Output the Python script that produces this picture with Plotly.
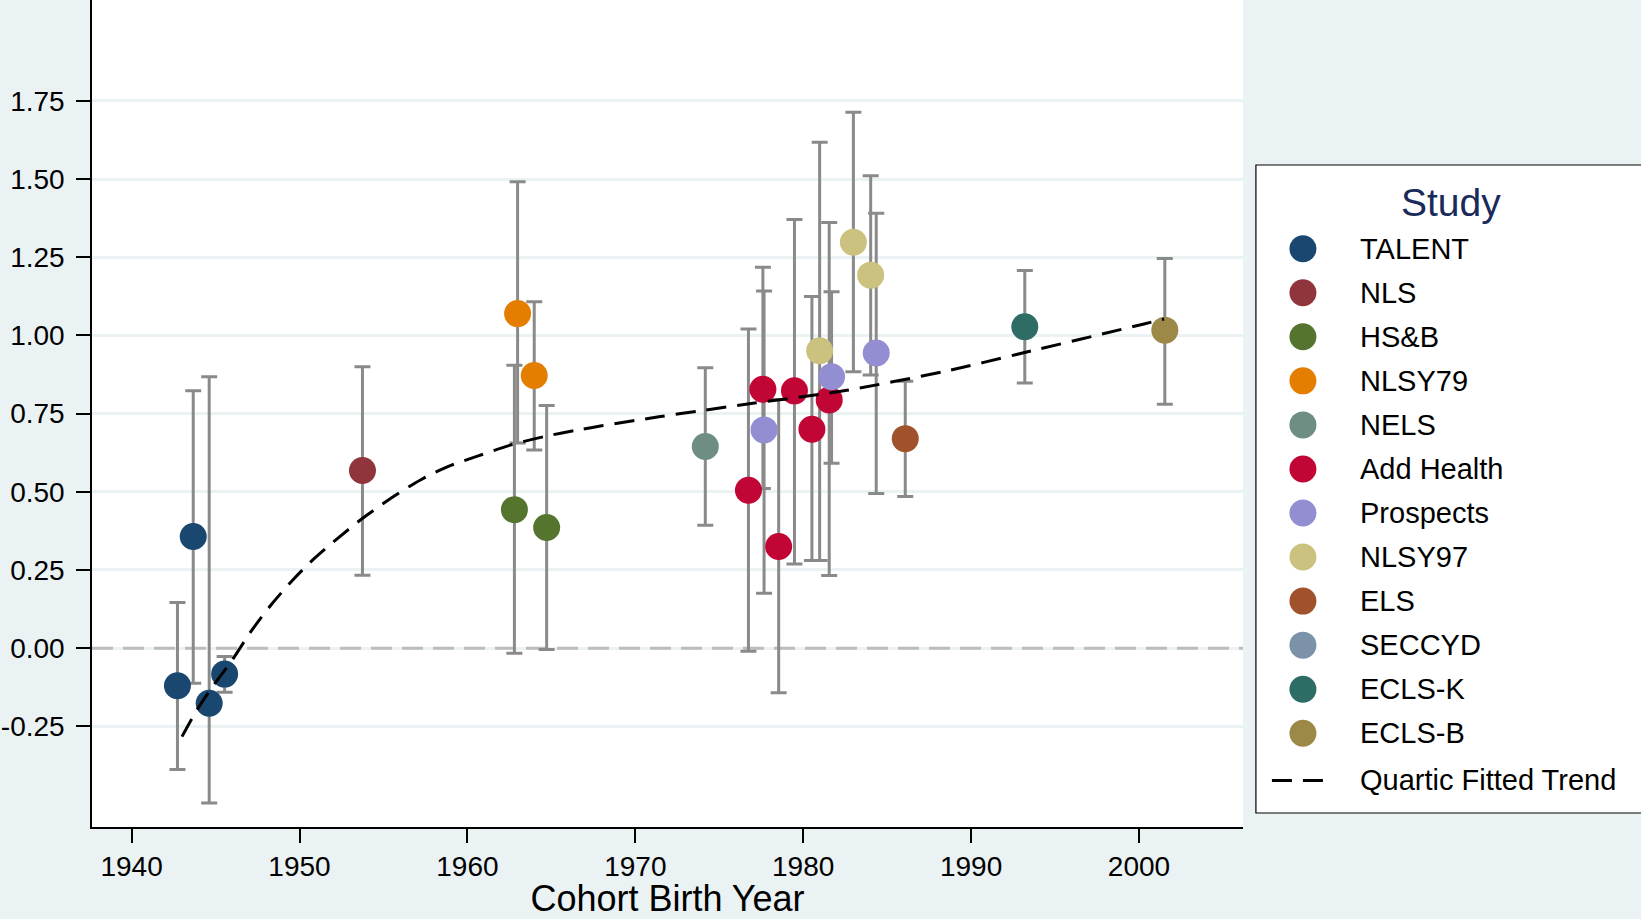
import plotly.graph_objects as go

# ---------------- data ----------------
studies = ["TALENT", "NLS", "HS&B", "NLSY79", "NELS", "Add Health", "Prospects",
           "NLSY97", "ELS", "SECCYD", "ECLS-K", "ECLS-B"]
colors = ["#1a476f", "#90353b", "#55752f", "#e37e00", "#6e8e84", "#c10534",
          "#938dd2", "#cac27e", "#a0522d", "#7b92a8", "#2d6d66", "#9c8847"]

talent_year = [1942.73, 1943.67, 1944.62, 1945.54]
talent_val = [-0.120, 0.357, -0.176, -0.083]
talent_lo = [-0.388, -0.112, -0.495, -0.141]
talent_hi = [0.146, 0.823, 0.868, -0.027]

nls_year = [1953.75]
nls_val = [0.568]
nls_lo = [0.233]
nls_hi = [0.900]

hsb_year = [1962.80, 1964.72]
hsb_val = [0.443, 0.386]
hsb_lo = [-0.016, -0.004]
hsb_hi = [0.905, 0.776]

nlsy79_year = [1962.99, 1963.98]
nlsy79_val = [1.070, 0.872]
nlsy79_lo = [0.656, 0.634]
nlsy79_hi = [1.492, 1.108]

nels_year = [1974.17]
nels_val = [0.645]
nels_lo = [0.393]
nels_hi = [0.897]

addh_year = [1976.74, 1977.60, 1978.54, 1979.48, 1980.52, 1981.55]
addh_val = [0.505, 0.828, 0.325, 0.823, 0.700, 0.794]
addh_lo = [-0.010, 0.511, -0.143, 0.269, 0.280, 0.232]
addh_hi = [1.021, 1.218, 0.795, 1.371, 1.125, 1.361]

prosp_year = [1977.67, 1981.69, 1984.35]
prosp_val = [0.698, 0.868, 0.944]
prosp_lo = [0.176, 0.591, 0.495]
prosp_hi = [1.142, 1.140, 1.391]

nlsy97_year = [1980.98, 1982.99, 1984.02]
nlsy97_val = [0.951, 1.298, 1.193]
nlsy97_lo = [0.280, 0.884, 0.874]
nlsy97_hi = [1.618, 1.714, 1.511]

els_year = [1986.08]
els_val = [0.670]
els_lo = [0.485]
els_hi = [0.854]

seccyd_year = []
seccyd_val = []
seccyd_lo = []
seccyd_hi = []

eclsk_year = [1993.20]
eclsk_val = [1.028]
eclsk_lo = [0.848]
eclsk_hi = [1.208]

eclsb_year = [2001.54]
eclsb_val = [1.017]
eclsb_lo = [0.780]
eclsb_hi = [1.246]

trend_year = [1943.0, 1943.9, 1944.9, 1946.0, 1947.1, 1948.3, 1949.6, 1950.9,
              1952.4, 1953.9, 1955.6, 1957.2, 1958.8, 1960.6, 1962.6, 1964.6,
              1966.6, 1968.0, 1971.4, 1974.1, 1977.0, 1982.5, 1988.4, 1993.0,
              2000.3, 2001.5]
trend_val = [-0.283, -0.197, -0.117, -0.037, 0.053, 0.138, 0.218, 0.288,
             0.357, 0.421, 0.485, 0.538, 0.580, 0.614, 0.650, 0.677,
             0.698, 0.711, 0.740, 0.761, 0.783, 0.824, 0.885, 0.943,
             1.037, 1.053]

x_ticks = [1940, 1950, 1960, 1970, 1980, 1990, 2000]
y_ticks = [-0.25, 0.0, 0.25, 0.5, 0.75, 1.0, 1.25, 1.5, 1.75]
y_tick_labels = ["-0.25", "0.00", "0.25", "0.50", "0.75", "1.00", "1.25", "1.50", "1.75"]

trend_label = "Quartic Fitted Trend"
legend_title = "Study"
x_title = "Cohort Birth Year"

# ---------------- figure ----------------
groups = [
    (talent_year, talent_val, talent_lo, talent_hi),
    (nls_year, nls_val, nls_lo, nls_hi),
    (hsb_year, hsb_val, hsb_lo, hsb_hi),
    (nlsy79_year, nlsy79_val, nlsy79_lo, nlsy79_hi),
    (nels_year, nels_val, nels_lo, nels_hi),
    (addh_year, addh_val, addh_lo, addh_hi),
    (prosp_year, prosp_val, prosp_lo, prosp_hi),
    (nlsy97_year, nlsy97_val, nlsy97_lo, nlsy97_hi),
    (els_year, els_val, els_lo, els_hi),
    (seccyd_year, seccyd_val, seccyd_lo, seccyd_hi),
    (eclsk_year, eclsk_val, eclsk_lo, eclsk_hi),
    (eclsb_year, eclsb_val, eclsb_lo, eclsb_hi),
]

FONT = "Liberation Sans, Arial, Helvetica, sans-serif"
BG = "#eaf2f3"
X_RANGE = [1937.64, 2006.2]
fig = go.Figure()

# zero reference line, drawn through the y scale
fig.add_trace(go.Scatter(
    x=X_RANGE, y=[0, 0], mode="lines",
    line=dict(color="#bdbdbd", width=3, dash="21px,10px"),
    showlegend=False, hoverinfo="skip"))

# all confidence caps first (beneath every marker)
all_x, all_y, all_up, all_dn = [], [], [], []
for yr, v, lo, hi in groups:
    all_x += yr
    all_y += v
    all_up += [h - a for h, a in zip(hi, v)]
    all_dn += [a - l for a, l in zip(v, lo)]
fig.add_trace(go.Scatter(
    x=all_x, y=all_y, mode="markers",
    marker=dict(size=2, opacity=0),
    error_y=dict(type="data", symmetric=False, array=all_up, arrayminus=all_dn,
                 color="#8a8a8a", thickness=3, width=8),
    showlegend=False, hoverinfo="skip"))

for (yr, v, lo, hi), name, col in zip(groups, studies, colors):
    if not yr:
        continue
    fig.add_trace(go.Scatter(
        x=yr, y=v, mode="markers", name=name,
        marker=dict(size=27, color=col, line=dict(width=0)),
        showlegend=False))

fig.add_trace(go.Scatter(
    x=trend_year, y=trend_val, mode="lines", name=trend_label,
    line=dict(color="black", width=3, dash="20px,11px", shape="spline", smoothing=0.8),
    showlegend=False))

# ---- custom legend (drawn on its own pair of axes) ----
idx = list(range(len(studies)))
fig.add_trace(go.Scatter(
    x=[47] * len(studies), y=idx, mode="markers", xaxis="x2", yaxis="y2",
    marker=dict(size=27, color=colors, line=dict(width=0)),
    showlegend=False, hoverinfo="skip"))
fig.add_trace(go.Scatter(
    x=[16, 69], y=[len(studies) + 0.07] * 2, mode="lines", xaxis="x2", yaxis="y2",
    line=dict(color="black", width=3, dash="20px,11px"),
    showlegend=False, hoverinfo="skip"))

annotations = []
for i, name in enumerate(studies + [trend_label]):
    annotations.append(dict(
        x=102, y=i + (0.07 if i == len(studies) else 0), xref="x2", yref="y2",
        text=name, showarrow=False, xanchor="left", yanchor="middle",
        font=dict(family=FONT, size=29, color="black")))
annotations.append(dict(
    x=195, y=-1.04, xref="x2", yref="y2", text=legend_title, showarrow=False,
    xanchor="center", yanchor="middle",
    font=dict(family=FONT, size=39, color="#1a2a5a")))

shapes = [
    dict(type="rect", xref="paper", x0=0.7514, x1=1.01, yref="paper",
         y0=0.01693, y1=0.8005, line=dict(color="black", width=1.2),
         fillcolor="rgba(0,0,0,0)", layer="above"),
]

fig.update_layout(
    width=1641, height=919,
    margin=dict(l=92, r=0, t=0, b=92, pad=0),
    paper_bgcolor=BG, plot_bgcolor="white",
    font=dict(family=FONT, color="black"),
    showlegend=False,
    annotations=annotations, shapes=shapes,
    xaxis=dict(
        domain=[0, 0.7431], range=X_RANGE,
        tickmode="array", tickvals=x_ticks,
        showline=True, linecolor="black", linewidth=1.5,
        ticks="outside", ticklen=14, tickwidth=1.5, tickcolor="black",
        showgrid=False, zeroline=False,
        tickfont=dict(size=28), ticklabelstandoff=0,
        title=dict(text=x_title, font=dict(size=36), standoff=1),
        automargin=False),
    yaxis=dict(
        range=[-0.572, 2.073],
        tickmode="array", tickvals=y_ticks, ticktext=y_tick_labels,
        showline=True, linecolor="black", linewidth=1.5,
        ticks="outside", ticklen=14, tickwidth=1.5, tickcolor="black",
        showgrid=True, gridcolor=BG, gridwidth=2.5, zeroline=False,
        tickfont=dict(size=28), ticklabelstandoff=6,
        automargin=False),
    xaxis2=dict(domain=[0.7514, 1], range=[0, 385], visible=False,
                anchor="y2", fixedrange=True),
    yaxis2=dict(domain=[0.01693, 0.8005], range=[12.81, -1.90], visible=False,
                anchor="x2", fixedrange=True),
)

fig.write_html("out.html", config={"displayModeBar": False},
               post_script="document.body.style.margin='0px';")
